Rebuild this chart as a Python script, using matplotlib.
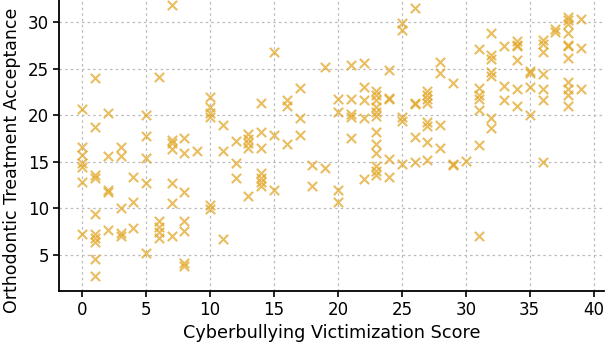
import matplotlib
matplotlib.use("Agg")
import matplotlib.pyplot as plt

# cyberbullying score (x) and orthodontic acceptance (y)
x_vals = [
    0, 0, 0, 0, 0, 0, 0,
    1, 1, 1, 1, 1, 1, 1, 1, 1, 1,
    2, 2, 2, 2, 2,
    3, 3, 3, 3, 3,
    4, 4, 4,
    5, 5, 5, 5, 5,
    6, 6, 6, 6, 6,
    7, 7, 7, 7, 7, 7, 7,
    8, 8, 8, 8, 8, 8, 8,
    9,
    10, 10, 10, 10, 10, 10,
    11, 11, 11,
    12, 12, 12,
    13, 13, 13, 13, 13,
    14, 14, 14, 14, 14, 14, 14,
    15, 15, 15,
    16, 16, 16,
    17, 17, 17,
    18, 18,
    19, 19,
    20, 20, 20, 20,
    21, 21, 21, 21, 21,
    22, 22, 22, 22, 22,
    23, 23, 23, 23, 23, 23, 23, 23, 23, 23, 23, 23,
    24, 24, 24, 24, 24,
    25, 25, 25, 25, 25,
    26, 26, 26, 26, 26,
    27, 27, 27, 27, 27, 27, 27, 27,
    28, 28, 28, 28,
    29, 29, 29,
    30,
    31, 31, 31, 31, 31, 31, 31,
    32, 32, 32, 32, 32, 32, 32,
    33, 33, 33,
    34, 34, 34, 34, 34, 34,
    35, 35, 35, 35,
    36, 36, 36, 36, 36, 36, 36,
    37, 37,
    38, 38, 38, 38, 38, 38, 38, 38, 38, 38, 38,
    39, 39, 39,
]
y_vals = [
    20.7, 16.6, 15.7, 14.9, 14.4, 12.8, 7.2,
    24.0, 18.7, 13.6, 13.3, 9.4, 7.2, 6.8, 6.4, 4.5, 2.7,
    20.2, 15.6, 12.0, 11.7, 7.7,
    16.6, 15.6, 10.0, 7.3, 7.0,
    13.4, 10.7, 7.9,
    20.0, 17.8, 15.4, 12.7, 5.2,
    24.1, 8.6, 8.0, 7.4, 6.8,
    31.9, 17.3, 17.0, 16.4, 12.7, 10.6, 7.0,
    17.6, 15.9, 11.8, 8.6, 7.5, 4.1, 3.8,
    16.2,
    22.0, 20.9, 20.2, 19.8, 10.4, 9.9,
    19.0, 16.2, 6.7,
    17.2, 14.9, 13.2,
    18.0, 17.5, 17.0, 16.5, 11.3,
    21.3, 18.2, 16.5, 13.8, 13.2, 12.8, 12.4,
    26.8, 17.9, 12.0,
    21.6, 21.0, 16.9,
    22.9, 19.7, 17.9,
    14.7, 12.4,
    25.2, 14.3,
    21.7, 20.4, 12.0, 10.7,
    25.4, 21.8, 20.1, 19.8, 17.6,
    25.6, 23.0, 21.6, 19.7, 13.1,
    22.6, 22.2, 21.6, 20.9, 20.4, 19.9, 18.2, 16.9, 15.9, 14.5, 14.0, 13.6,
    24.9, 21.9, 21.8, 15.3, 13.4,
    29.9, 29.2, 19.8, 19.4, 14.8,
    31.5, 21.3, 21.2, 17.7, 15.0,
    22.6, 22.2, 21.7, 21.3, 19.3, 18.8, 17.1, 15.2,
    25.7, 24.6, 19.0, 16.5,
    23.5, 14.8, 14.6,
    15.1,
    27.1, 22.9, 22.2, 21.8, 20.6, 16.8, 7.0,
    28.9, 26.5, 26.0, 24.7, 24.2, 19.7, 18.6,
    27.4, 23.2, 21.6,
    28.0, 27.6, 27.4, 25.9, 22.8, 21.0,
    24.8, 24.6, 23.0, 20.0,
    28.1, 27.7, 26.8, 24.4, 22.8, 21.6, 15.0,
    29.3, 29.0,
    30.6, 30.2, 29.8, 28.8, 27.6, 27.5, 26.2, 23.6, 22.8, 22.2, 21.0,
    30.4, 27.2, 22.8,
]

x_ticks = [0, 5, 10, 15, 20, 25, 30, 35, 40]
y_ticks = [5, 10, 15, 20, 25, 30]


def main():
    fig = plt.figure(figsize=(6.10, 3.46), dpi=100)
    ax = fig.add_axes([0.097, 0.159, 0.893, 0.841])

    ax.scatter(x_vals, y_vals, marker="x", s=45, linewidths=1.5,
               color="#E2A82A", alpha=0.75, zorder=3)

    ax.set_xlim(-1.8, 40.8)
    ax.set_ylim(1.1, 32.4)
    ax.set_xticks(x_ticks)
    ax.set_yticks(y_ticks)
    ax.tick_params(labelsize=12, length=4, width=1.2)

    ax.grid(True, linestyle=(0, (2, 2.5)), color="#bbbbbb", linewidth=0.9)
    ax.spines["top"].set_visible(False)
    ax.spines["right"].set_visible(False)
    ax.spines["left"].set_linewidth(1.3)
    ax.spines["bottom"].set_linewidth(1.3)

    ax.set_xlabel("Cyberbullying Victimization Score", fontsize=12.7, labelpad=3)
    ax.set_ylabel("Orthodontic Treatment Acceptance", fontsize=12.5)
    # the reference crops the top, so the y label sits lower than centre
    ax.yaxis.set_label_coords(-0.07, 0.45)

    fig.savefig("out.png", dpi=100)
    plt.close(fig)


if __name__ == "__main__":
    main()
